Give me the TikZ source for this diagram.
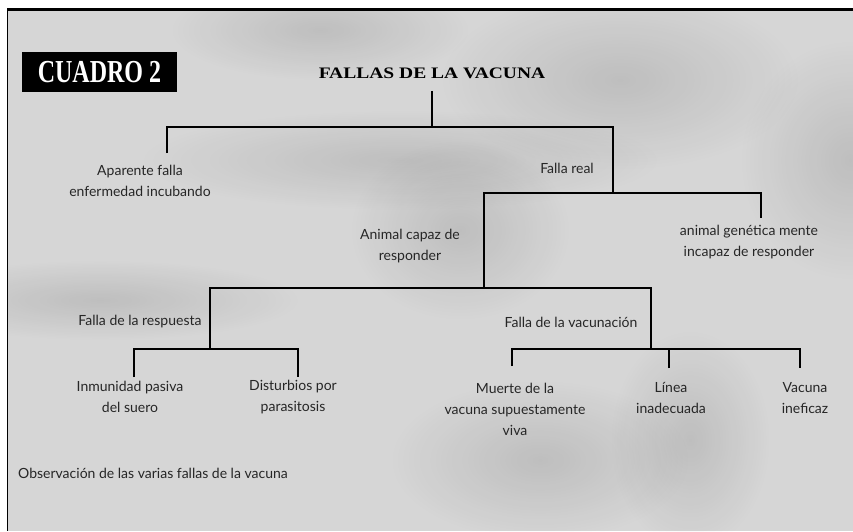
\documentclass[tikz,border=0pt]{standalone}
\usepackage{fontspec}
\setmainfont{Lato}
\newfontfamily\titlefont{Liberation Serif}
\usetikzlibrary{positioning,fadings}

\definecolor{paper}{RGB}{214,214,214}
\tikzfading[name=mota, inner color=transparent!0, outer color=transparent!100]

\begin{document}
\begin{tikzpicture}[x=1pt,y=-1pt,
  branch/.style={line width=2.8pt},
  mancha/.style={black,opacity=0.11,path fading=mota},
  caja/.style={align=center,inner sep=0pt,text=black!85,font=\fontsize{14}{21}\selectfont}]
\useasboundingbox (0,0) rectangle (853,531);
\fill[white] (0,0) rectangle (853,531);
\fill[paper] (8,8) rectangle (853,531);
\begin{scope}
\clip (8,8) rectangle (853,531);
\fill[mancha] (620,80) ellipse (180 and 90);
\fill[mancha] (400,160) ellipse (260 and 50);
\fill[mancha] (460,230) ellipse (110 and 90);
\fill[mancha] (850,160) ellipse (110 and 120);
\fill[mancha] (540,460) ellipse (150 and 80);
\fill[mancha] (690,440) ellipse (80 and 110);
\fill[mancha] (100,300) ellipse (200 and 40);
\fill[mancha] (320,30) ellipse (150 and 50);
\end{scope}
\draw[line width=3pt] (8,9) -- (853,9);
\draw[line width=1.5pt] (7.5,8) -- (7.5,531);

\node[fill=black,minimum width=155pt,minimum height=40pt,inner sep=0pt] (cuadro) at (99.5,72) {\titlefont\bfseries\color{white}\scalebox{0.75}[1]{\fontsize{32}{32}\selectfont CUADRO 2}};
\node[font=\titlefont\bfseries\fontsize{16}{18}\selectfont] (titulo) at (432,73) {\scalebox{1.22}[1]{FALLAS DE LA VACUNA}};

\node[caja] (aparente) at (140,181) {Aparente falla\\enfermedad incubando};
\node[caja] (real) at (567,168) {Falla real};
\node[caja] (capaz) at (410,246) {Animal capaz de\\responder};
\node[caja] (incapaz) at (749,242) {animal genética mente\\incapaz de responder};
\node[caja] (respuesta) at (140,322) {Falla de la respuesta};
\node[caja] (vacunacion) at (571,322) {Falla de la vacunación};
\node[caja] (pasiva) at (130,397) {Inmunidad pasiva\\del suero};
\node[caja] (disturbios) at (293,397) {Disturbios por\\parasitosis};
\node[caja] (muerte) at (515,409) {Muerte de la\\vacuna supuestamente\\viva};
\node[caja] (linea) at (671,398) {Línea\\inadecuada};
\node[caja] (ineficaz) at (805,398) {Vacuna\\ineficaz};
\node[caja,anchor=west] (nota) at (18,473) {Observación de las varias fallas de la vacuna};

\coordinate (b1) at (432,127);
\coordinate (aL) at (167,153);
\coordinate (aR) at (613,193);
\coordinate (cR) at (761,218);
\coordinate (cL) at (484,288);
\coordinate (dL) at (210,349);
\coordinate (dR) at (651,349);
\coordinate (eL) at (134,377);
\coordinate (eR) at (298,377);
\coordinate (fL) at (512,366);
\coordinate (fM) at (669,368);
\coordinate (fR) at (800,368);

\draw[branch,shorten <=9pt] (titulo) -- (b1);
\draw[branch] (aL) |- (b1) -| (aR);
\draw[branch] (cL) |- (aR) -| (cR);
\draw[branch] (dL) |- (cL) -| (dR);
\draw[branch] (eL) |- (dL) -| (eR);
\draw[branch] (fL) |- (dR) -| (fR);
\draw[branch] (fM) -- (fM |- dR);
\end{tikzpicture}
\end{document}
